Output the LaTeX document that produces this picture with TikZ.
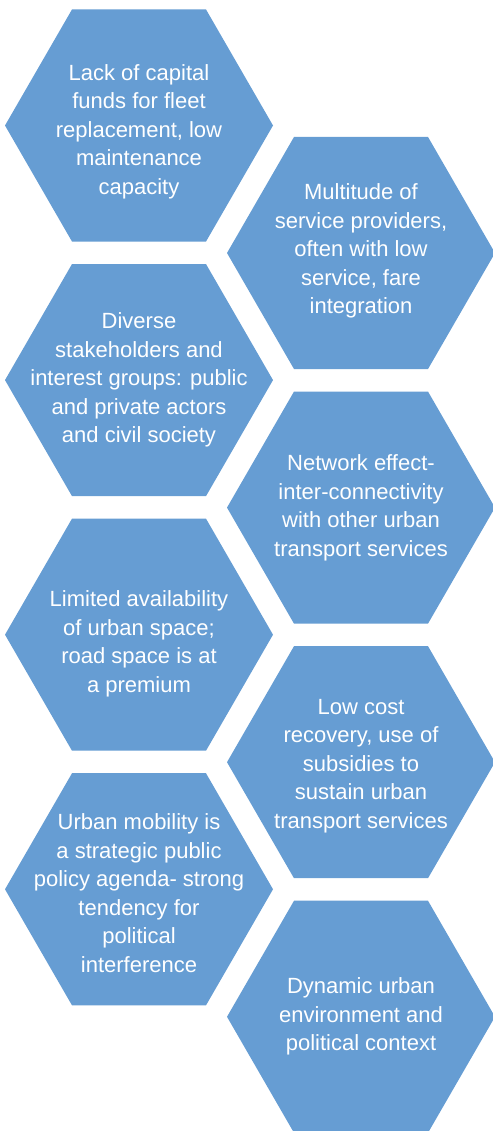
\documentclass[tikz,border=0pt]{standalone}
\usepackage{fontspec}
\setmainfont{Liberation Sans}
\usetikzlibrary{shapes.geometric, positioning}
\definecolor{hexblue}{RGB}{102,157,211}
\tikzstyle{hexa} = [regular polygon, regular polygon sides=6, minimum size=268pt, inner sep=0pt, outer sep=0pt, fill=hexblue]
\tikzstyle{hextext} = [align=center, text=white, font=\fontsize{22}{28.5}\selectfont, inner sep=0pt]

\begin{document}
\begin{tikzpicture}[node distance=22.5pt]
    \useasboundingbox (0pt,0pt) rectangle (492pt,-1131pt);
    % Hexagons, left column
    \node [hexa] (h1) at (139pt,-125.5pt) {};
    \node [hexa, below=of h1] (h3) {};
    \node [hexa, below=of h3] (h5) {};
    \node [hexa, below=of h5] (h7) {};
    % Hexagons, right column
    \node [hexa] (h2) at (361pt,-253pt) {};
    \node [hexa, below=of h2] (h4) {};
    \node [hexa, below=of h4] (h6) {};
    \node [hexa, below=of h6] (h8) {};

    % Texts
    \node [hextext, yshift=-6pt] (t1) at (h1) {Lack of capital\\funds for fleet\\replacement, low\\maintenance\\capacity};
    \node [hextext, yshift=2pt] (t2) at (h2) {Multitude of\\service providers,\\often with low\\service, fare\\integration};
    \node [hextext] (t3) at (h3) {Diverse\\stakeholders and\\interest groups: public\\and private actors\\and civil society};
    \node [hextext] (t4) at (h4) {Network effect-\\inter-connectivity\\with other urban\\transport services};
    \node [hextext, yshift=-9pt] (t5) at (h5) {Limited availability\\of urban space;\\road space is at\\a premium};
    \node [hextext, yshift=-4pt] (t6) at (h6) {Low cost\\recovery, use of\\subsidies to\\sustain urban\\transport services};
    \node [hextext, yshift=-4pt] (t7) at (h7) {Urban mobility is\\a strategic public\\policy agenda- strong\\tendency for\\political\\interference};
    \node [hextext] (t8) at (h8) {Dynamic urban\\environment and\\political context};
\end{tikzpicture}
\end{document}
